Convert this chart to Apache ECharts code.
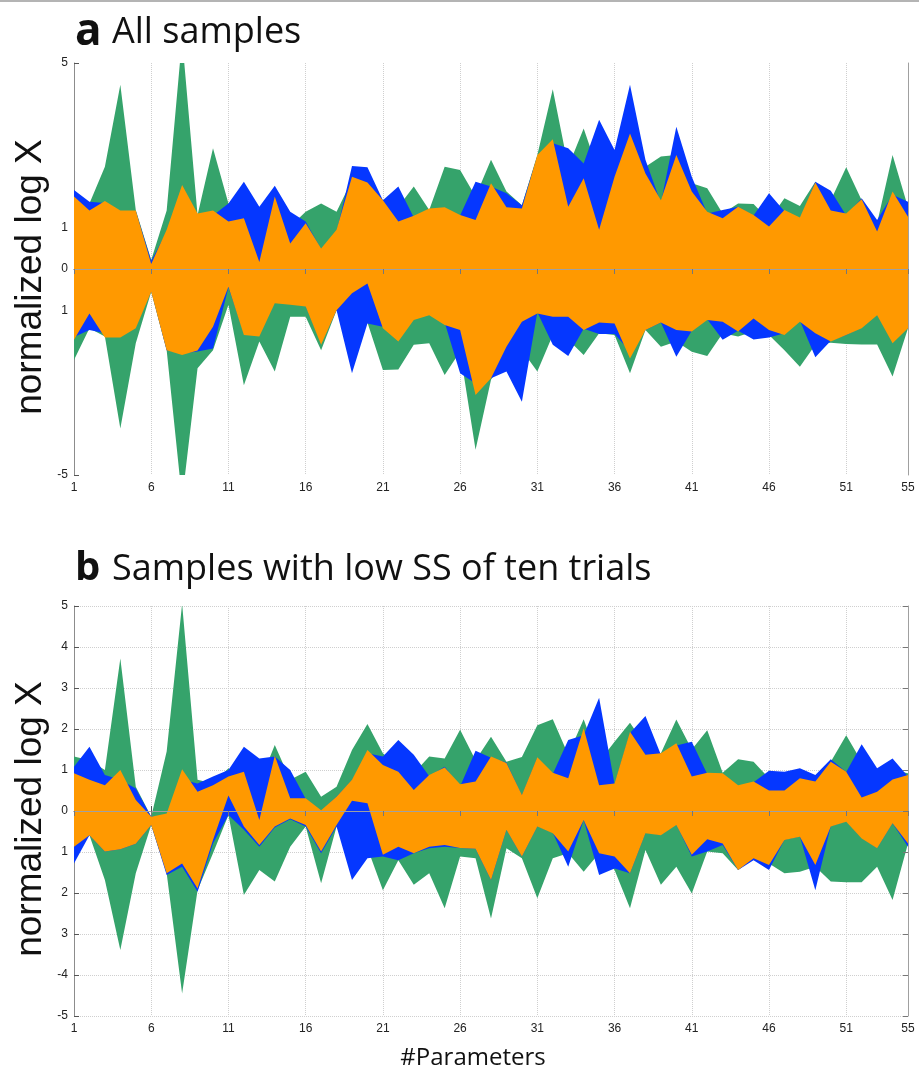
<!DOCTYPE html>
<html>
<head>
<meta charset="utf-8">
<script src="https://cdn.jsdelivr.net/npm/echarts@6/dist/echarts.min.js"></script>
<style>
html,body{margin:0;padding:0;background:#fff;}
#main{width:919px;height:1077px;}
</style>
</head>
<body>
<div id="main"></div>
<script>
// panel a: all samples (upper / lower edge of each band, parameters 1..55)
var aGreenHi = [1.80,1.59,2.48,4.47,1.43,0.22,1.42,5.6,1.31,2.93, 1.59,1.35,1.35,1.67,1.03,1.39,1.59,1.39,2.16,2.08, 1.67,1.51,2.0,1.43,2.48,2.40,1.76,2.65,1.88,1.55, 2.77,4.36,2.48,3.41,2.32,2.40,3.13,2.48,2.73,2.77, 2.08,1.96,1.35,1.59,1.58,1.19,1.72,1.53,2.12,1.67, 2.47,1.67,1.11,2.77,1.5];
var aGreenLo = [-2.21,-1.44,-1.64,-3.87,-1.80,-0.55,-1.97,-5.6,-2.41,-1.97, -0.87,-2.82,-1.76,-2.49,-1.16,-1.16,-1.97,-1.0,-1.80,-1.3, -2.45,-2.44,-1.84,-1.80,-2.57,-2.0,-4.39,-2.69,-2.13,-1.97, -2.49,-1.60,-1.72,-2.09,-1.56,-1.60,-2.53,-1.48,-1.89,-1.76, -2.01,-2.11,-1.56,-1.64,-1.52,-1.60,-1.97,-2.37,-1.84,-1.79, -1.82,-1.83,-1.83,-2.61,-1.44];
var aBlueHi = [1.92,1.63,1.6,1.4,1.4,0.2,0.9,1.6,1.31,1.3, 1.59,2.12,1.51,2.02,1.39,1.15,0.48,0.9,2.50,2.47, 1.67,2.0,1.25,1.39,1.45,1.3,2.12,2.0,1.84,1.55, 2.73,3.05,2.93,2.56,3.62,2.89,4.47,2.65,1.6,3.45, 2.24,1.35,1.43,1.51,1.3,1.84,1.4,1.2,2.12,1.90, 1.3,1.72,1.19,1.8,1.63];
var aBlueLo = [-1.65,-1.48,-1.56,-1.6,-1.4,-0.53,-1.97,-2.05,-2.0,-1.93, -0.45,-1.55,-1.6,-0.8,-0.85,-0.9,-1.8,-1.0,-2.53,-1.32, -1.4,-1.7,-1.2,-1.1,-1.3,-2.53,-2.78,-2.65,-2.49,-3.22, -1.05,-1.84,-2.11,-1.45,-1.58,-1.58,-2.0,-1.48,-1.3,-2.13, -1.5,-1.22,-1.72,-1.5,-1.71,-1.66,-1.56,-1.25,-2.14,-1.74, -1.6,-1.42,-1.1,-1.78,-1.42];
var aOrangeHi = [1.76,1.42,1.65,1.42,1.42,0.12,0.95,2.04,1.35,1.42, 1.15,1.23,0.17,1.76,0.62,1.11,0.50,0.95,2.24,2.10, 1.67,1.15,1.29,1.47,1.50,1.31,1.19,2.08,1.50,1.47, 2.77,3.15,1.51,2.20,0.95,2.24,3.29,2.32,1.67,2.77, 1.88,1.39,1.23,1.51,1.31,1.03,1.43,1.25,2.10,1.42, 1.35,1.69,0.91,1.88,1.27];
var aOrangeLo = [-1.72,-1.08,-1.66,-1.66,-1.44,-0.55,-1.97,-2.09,-1.98,-1.40, -0.43,-1.60,-1.64,-0.83,-0.87,-0.91,-1.84,-1.0,-0.59,-0.35, -1.44,-1.76,-1.24,-1.12,-1.36,-1.48,-3.06,-2.65,-1.89,-1.28, -1.08,-1.16,-1.16,-1.48,-1.30,-1.32,-2.17,-1.48,-1.30,-1.48, -1.52,-1.24,-1.28,-1.52,-1.20,-1.48,-1.60,-1.28,-1.56,-1.76, -1.60,-1.44,-1.12,-1.80,-1.44];

// panel b: samples with low SS of ten trials
var bGreenHi = [1.33,1.24,1.0,3.72,0.59,-0.14,1.45,5.05,0.76,0.67, 1.04,0.76,0.67,1.61,0.76,0.96,0.35,0.59,1.49,2.12, 1.41,1.08,0.92,1.33,1.28,1.98,1.24,1.81,1.20,1.32, 2.09,2.24,1.37,2.24,1.2,1.69,2.15,1.6,1.41,2.23, 1.5,1.97,0.93,1.26,1.20,0.8,0.8,0.9,0.8,1.20, 1.85,1.2,1.0,1.0,0.92];
var bGreenLo = [-1.0,-0.59,-1.68,-3.39,-1.52,-0.34,-1.52,-4.45,-1.93,-1.03, -0.1,-2.05,-1.44,-1.72,-0.87,-0.38,-1.76,-0.38,-1.03,-0.9, -1.93,-1.2,-1.80,-1.52,-2.37,-1.11,-1.15,-2.62,-0.91,-1.15, -2.13,-1.15,-1.03,-1.48,-1.03,-1.44,-2.37,-0.95,-1.80,-1.36, -2.01,-0.99,-1.03,-1.44,-1.15,-1.28,-1.52,-1.48,-1.36,-1.72, -1.74,-1.74,-1.36,-2.17,-0.79];
var bBlueHi = [1.08,1.57,0.88,0.76,0.55,-0.14,-0.1,0.76,0.67,0.84, 1.0,1.57,1.28,1.33,1.0,0.3,0.0,0.35,0.75,1.41, 1.33,1.73,1.37,0.85,1.08,0.6,1.47,1.3,1.18,0.38, 1.3,0.9,1.73,1.85,2.76,0.65,1.9,2.32,1.37,1.6, 1.69,0.9,0.9,0.6,0.7,0.98,0.96,1.04,0.88,1.26, 0.95,1.63,1.04,1.28,0.84];
var bBlueLo = [-1.28,-0.59,-0.99,-0.93,-0.80,-0.34,-1.56,-1.36,-1.97,-0.79, -0.1,-0.46,-0.87,-0.4,-0.2,-0.38,-1.03,-0.38,-1.68,-1.15, -1.11,-1.20,-1.03,-0.91,-0.87,-0.9,-0.92,-1.68,-0.45,-1.11, -0.37,-0.53,-1.36,-0.22,-1.56,-1.40,-1.52,-0.53,-0.58,-0.33, -1.11,-0.99,-0.83,-1.44,-1.20,-1.44,-0.7,-0.62,-1.93,-0.37, -0.25,-0.66,-0.9,-0.3,-0.87];
var bOrangeHi = [0.92,0.76,0.63,1.0,0.27,-0.14,-0.06,1.02,0.47,0.63, 0.84,0.96,-0.22,1.35,0.31,0.31,0.02,0.35,0.76,1.49, 1.12,0.96,0.51,0.88,1.06,0.65,0.72,1.33,1.17,0.39, 1.31,0.93,0.80,2.02,0.63,0.67,1.93,1.37,1.41,1.65, 0.84,0.93,0.92,0.63,0.72,0.50,0.50,0.80,0.72,1.20, 0.96,0.33,0.47,0.77,0.88];
var bOrangeLo = [-0.87,-0.59,-0.99,-0.93,-0.80,-0.34,-1.52,-1.28,-1.89,-0.71, 0.38,-0.38,-0.83,-0.38,-0.18,-0.34,-0.99,-0.34,0.25,0.19, -1.07,-0.87,-1.03,-0.87,-0.83,-0.9,-0.92,-1.68,-0.46,-1.11, -0.38,-0.54,-0.99,-0.22,-1.03,-1.11,-1.52,-0.54,-0.59,-0.34, -1.07,-0.69,-0.79,-1.44,-1.15,-1.32,-0.71,-0.63,-1.32,-0.38, -0.26,-0.67,-0.91,-0.30,-0.79];

// parameter numbers on the x axis, and the y tick labels as printed in the figure
var params = [];
for (var p = 1; p <= aOrangeHi.length; p++) params.push(String(p));
var aYTickVals = [-5, -1, 0, 1, 5];
var aYTickText = ['-5', '1', '0', '1', '5'];
var bYTickVals = [-5, -4, -3, -2, -1, 0, 1, 2, 3, 4, 5];
var bYTickText = ['-5', '-4', '3', '2', '1', '0', '1', '2', '3', '4', '5'];

var GREEN = '#35a36b', BLUE = '#0537ff', ORANGE = '#ff9900';
var labelFont = {fontFamily: 'Liberation Sans', fontSize: 12, color: '#222'};

// show a tick at 1, 6, 11, ... 51 and at 55
function everyFifth(idx){ return idx % 5 === 0 || idx === params.length - 1; }

// band = invisible lower line + stacked (hi - lo) area on top of it
function band(lo, hi, panel, color, key){
	var span = hi.map(function(v, i){ return v - lo[i]; });
	var common = {
		type: 'line', xAxisIndex: panel * 2, yAxisIndex: panel * 2,
		stack: key, stackStrategy: 'all', symbol: 'none', silent: true,
		animation: false, lineStyle: {width: 0, opacity: 0}
	};
	return [
		Object.assign({}, common, {data: lo}),
		Object.assign({}, common, {data: span, areaStyle: {color: color, opacity: 1}})
	];
}

function xAxes(panel){
	return [{
		gridIndex: panel, type: 'category', data: params, boundaryGap: false,
		axisLine: {lineStyle: {color: '#8c8c8c'}},
		axisTick: {inside: true, length: 5, interval: everyFifth, lineStyle: {color: '#555'}},
		axisLabel: Object.assign({margin: 7, interval: everyFifth}, labelFont),
		splitLine: {show: true, interval: everyFifth, lineStyle: {color: '#cfcfcf', type: 'dotted'}}
	}, {
		gridIndex: panel, type: 'category', data: params, boundaryGap: false, position: 'top', z: 5,
		axisLine: {show: true, lineStyle: {color: '#a0a0a0'}},
		axisTick: {show: true, inside: true, length: 5, interval: everyFifth, lineStyle: {color: '#777'}},
		axisLabel: {show: false}, splitLine: {show: false}
	}];
}

function yAxes(panel, vals, texts, grid){
	return [{
		gridIndex: panel, type: 'value', min: -5, max: 5, interval: 1,
		axisLine: {show: true, lineStyle: {color: '#8c8c8c'}},
		axisTick: {show: true, inside: true, length: 5, customValues: vals, lineStyle: {color: '#555'}},
		axisLabel: Object.assign({
			margin: 6, customValues: vals,
			formatter: function(v){ var k = vals.indexOf(v); return k < 0 ? '' : texts[k]; }
		}, labelFont),
		splitLine: {show: grid, lineStyle: {color: '#cfcfcf', type: 'dotted'}}
	}, {
		gridIndex: panel, type: 'value', position: 'right', min: -5, max: 5, interval: 1, z: 5,
		axisLine: {show: true, lineStyle: {color: '#a0a0a0'}},
		axisTick: {show: grid, inside: true, length: 5, lineStyle: {color: '#777'}},
		axisLabel: {show: false}, splitLine: {show: false}
	}];
}

var series = [].concat(
	band(aGreenLo, aGreenHi, 0, GREEN, 'ag'),
	band(aBlueLo, aBlueHi, 0, BLUE, 'ab'),
	band(aOrangeLo, aOrangeHi, 0, ORANGE, 'ao'),
	band(bGreenLo, bGreenHi, 1, GREEN, 'bg'),
	band(bBlueLo, bBlueHi, 1, BLUE, 'bb'),
	band(bOrangeLo, bOrangeHi, 1, ORANGE, 'bo')
);

function yName(y){
	return {
		type: 'text', x: 31, y: y, rotation: Math.PI / 2,
		style: {text: 'normalized log X', font: '37px "Liberation Sans"', fill: '#111',
			textAlign: 'center', textVerticalAlign: 'middle'}
	};
}

var myChart = echarts.init(document.getElementById('main'));
var option = {
	backgroundColor: '#fff',
	animation: false,
	grid: [
		{left: 74, top: 63, width: 834, height: 412},
		{left: 74, top: 606, width: 834, height: 410}
	],
	xAxis: xAxes(0).concat(xAxes(1)),
	yAxis: yAxes(0, aYTickVals, aYTickText, false).concat(yAxes(1, bYTickVals, bYTickText, true)),
	series: series,
	graphic: [
		{type: 'line', shape: {x1: 0, y1: 1, x2: 919, y2: 1}, style: {stroke: '#b4b4b4', lineWidth: 2}},
		{type: 'text', x: 75, y: 32, style: {text: 'a', font: 'bold 44px "Open Sans"', fill: '#111', textVerticalAlign: 'middle'}},
		{type: 'text', x: 112, y: 33, style: {text: 'All samples', font: '36px "Open Sans"', fill: '#111', textVerticalAlign: 'middle'}},
		{type: 'text', x: 75, y: 569, style: {text: 'b', font: 'bold 40px "Open Sans"', fill: '#111', textVerticalAlign: 'middle'}},
		{type: 'text', x: 112, y: 570, style: {text: 'Samples with low SS of ten trials', font: '36px "Open Sans"', fill: '#111', textVerticalAlign: 'middle'}},
		yName(277),
		yName(819),
		{type: 'text', x: 473, y: 1058, style: {text: '#Parameters', font: '24px "Open Sans"', fill: '#111',
			textAlign: 'center', textVerticalAlign: 'middle'}}
	]
};
myChart.setOption(option);
</script>
</body>
</html>
